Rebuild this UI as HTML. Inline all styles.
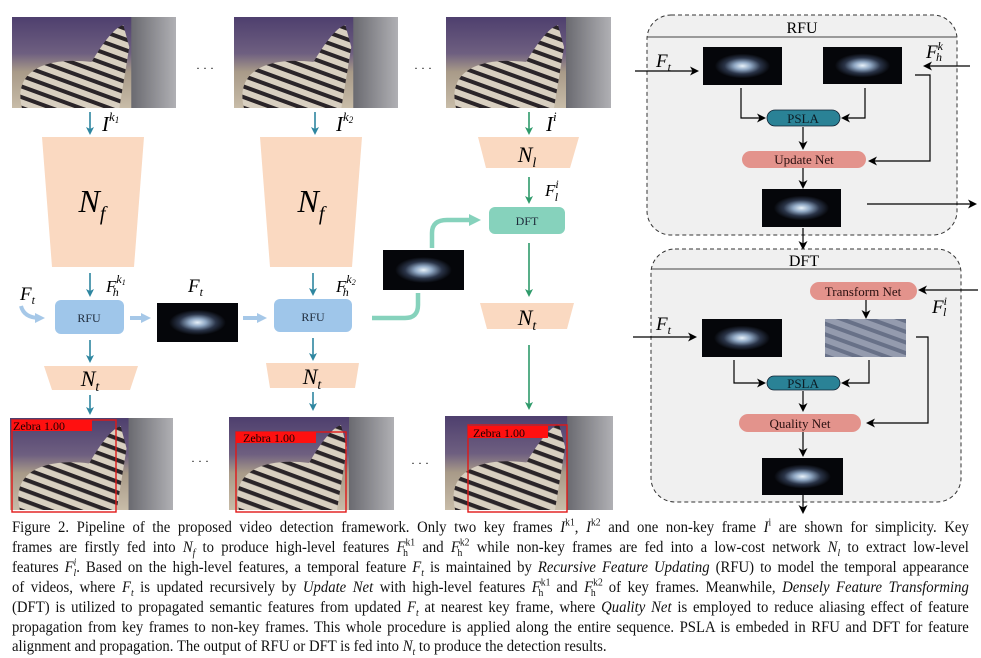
<!DOCTYPE html>
<html><head><meta charset="utf-8"><style>
html,body{margin:0;padding:0;background:#fff;}
body{width:981px;height:656px;position:relative;overflow:hidden;font-family:"Liberation Serif",serif;}
svg{position:absolute;left:0;top:0;}
.cap{position:absolute;left:12px;width:1040px;transform:scaleX(0.92);transform-origin:0 0;font-size:16px;line-height:20px;text-align:justify;text-align-last:justify;white-space:nowrap;color:#111;}
.cap i{font-style:italic;}
sup,sub{font-size:10.5px;line-height:0;}
</style></head><body>
<svg width="981" height="656" viewBox="0 0 981 656" xmlns="http://www.w3.org/2000/svg" font-family="Liberation Serif, serif">
<defs>
<linearGradient id="bg" x1="0" y1="0" x2="0" y2="1">
<stop offset="0" stop-color="#4e3f6e"/><stop offset="0.4" stop-color="#6e5f80"/><stop offset="0.6" stop-color="#a89a88"/><stop offset="1" stop-color="#c8bca8"/></linearGradient>
<linearGradient id="wall" x1="0" y1="0" x2="1" y2="0"><stop offset="0" stop-color="#6a6a70"/><stop offset="1" stop-color="#b0b0b4"/></linearGradient>
<pattern id="str" width="10" height="10" patternUnits="userSpaceOnUse" patternTransform="rotate(20)">
<rect width="10" height="10" fill="#d8cfc0"/><rect width="10" height="4" fill="#2a2428"/></pattern>
<radialGradient id="blob" cx="0.5" cy="0.5" r="0.5"><stop offset="0" stop-color="#e8f2fa"/><stop offset="0.3" stop-color="#90a8c4"/><stop offset="0.65" stop-color="#2a3448"/><stop offset="1" stop-color="#05060a"/></radialGradient>
<symbol id="photo" viewBox="0 0 165 91" preserveAspectRatio="none">
<rect width="165" height="91" fill="url(#bg)"/>
<rect x="120" y="0" width="45" height="91" fill="url(#wall)"/>
<path d="M10 91 C0 50 40 40 80 45 C95 20 105 10 112 8 L118 30 L108 91 Z" fill="url(#str)"/>
</symbol>
<symbol id="feat" viewBox="0 0 80 40" preserveAspectRatio="none">
<rect width="80" height="40" fill="#05060a"/>
<ellipse cx="40" cy="20" rx="28" ry="13" fill="url(#blob)"/>
</symbol>
<marker id="ab" markerWidth="8" markerHeight="8" refX="6" refY="4" orient="auto" markerUnits="userSpaceOnUse"><path d="M0,0 L8,4 L0,8 L2,4 Z" fill="#2e86a0"/></marker>
<marker id="ag" markerWidth="8" markerHeight="8" refX="6" refY="4" orient="auto" markerUnits="userSpaceOnUse"><path d="M0,0 L8,4 L0,8 L2,4 Z" fill="#2e9a6a"/></marker>
<marker id="ak" markerWidth="9" markerHeight="9" refX="7" refY="4.5" orient="auto" markerUnits="userSpaceOnUse"><path d="M0,0 L9,4.5 L0,9 L2.5,4.5 Z" fill="#000"/></marker>
<marker id="al" markerWidth="10" markerHeight="10" refX="5" refY="5" orient="auto" markerUnits="userSpaceOnUse"><path d="M0,0 L10,5 L0,10 Z" fill="#a6c8e8"/></marker>
<marker id="at" markerWidth="12" markerHeight="12" refX="5" refY="6" orient="auto" markerUnits="userSpaceOnUse"><path d="M0,0 L12,6 L0,12 Z" fill="#86d2bc"/></marker>
</defs>

<use href="#photo" x="12" y="17" width="164" height="91"/>
<use href="#photo" x="234" y="17" width="164" height="91"/>
<use href="#photo" x="446" y="17" width="165" height="91"/>
<text x="205" y="72" font-size="12" text-anchor="middle">· · ·</text>
<text x="423" y="72" font-size="12" text-anchor="middle">· · ·</text>

<g stroke="#2e86a0" stroke-width="1.6" fill="none">
<line x1="90" y1="112" x2="90" y2="133" marker-end="url(#ab)"/>
<line x1="315" y1="112" x2="315" y2="133" marker-end="url(#ab)"/>
<line x1="90" y1="273" x2="90" y2="295" marker-end="url(#ab)"/>
<line x1="313" y1="273" x2="313" y2="294" marker-end="url(#ab)"/>
<line x1="90" y1="340" x2="90" y2="361" marker-end="url(#ab)"/>
<line x1="313" y1="338" x2="313" y2="359" marker-end="url(#ab)"/>
<line x1="90" y1="395" x2="90" y2="413" marker-end="url(#ab)"/>
<line x1="313" y1="392" x2="313" y2="409" marker-end="url(#ab)"/>
</g>
<g stroke="#2e9a6a" stroke-width="1.6" fill="none">
<line x1="529" y1="112" x2="529" y2="133" marker-end="url(#ag)"/>
<line x1="529" y1="177" x2="529" y2="202" marker-end="url(#ag)"/>
<line x1="529" y1="243" x2="529" y2="295" marker-end="url(#ag)"/>
<line x1="529" y1="345" x2="529" y2="408" marker-end="url(#ag)"/>
</g>
<g font-style="italic" font-size="21">
<text x="102" y="131">I<tspan font-size="13" dy="-10">k</tspan><tspan font-size="9" dy="2">1</tspan></text>
<text x="336" y="131">I<tspan font-size="13" dy="-10">k</tspan><tspan font-size="9" dy="2">2</tspan></text>
<text x="546" y="131">I<tspan font-size="13" dy="-10">i</tspan></text>
<text x="545" y="196" font-size="17">F<tspan font-size="12" dy="-8">i</tspan><tspan font-size="12" dx="-4" dy="13">l</tspan></text>
<text x="106" y="292" font-size="17">F<tspan font-size="12" dy="-9">k</tspan><tspan font-size="8" dy="2">1</tspan><tspan font-size="12" dx="-13" dy="11">h</tspan></text>
<text x="336" y="292" font-size="17">F<tspan font-size="12" dy="-9">k</tspan><tspan font-size="8" dy="2">2</tspan><tspan font-size="12" dx="-13" dy="11">h</tspan></text>
<text x="20" y="300" font-size="19">F<tspan font-size="12" dy="4">t</tspan></text>
<text x="188" y="292" font-size="19">F<tspan font-size="12" dy="4">t</tspan></text>
</g>

<g fill="#fad9c1">
<polygon points="42,137 144,137 134,267 52,267"/>
<polygon points="260,137 362,137 352,267 270,267"/>
<polygon points="478,137 579,137 570,168 486,168"/>
<polygon points="480,303 574,303 567,329 487,329"/>
<polygon points="44,366 138,366 130,390 52,390"/>
<polygon points="266,363 359,363 355,388 270,388"/>
</g>
<g font-style="italic" text-anchor="middle">
<text x="92" y="212" font-size="32">N<tspan font-size="20" dy="8">f</tspan></text>
<text x="311" y="212" font-size="32">N<tspan font-size="20" dy="8">f</tspan></text>
<text x="527" y="162" font-size="22">N<tspan font-size="14" dy="5">l</tspan></text>
<text x="527" y="325" font-size="22">N<tspan font-size="14" dy="5">t</tspan></text>
<text x="90" y="386" font-size="22">N<tspan font-size="14" dy="5">t</tspan></text>
<text x="312" y="384" font-size="22">N<tspan font-size="14" dy="5">t</tspan></text>
</g>

<rect x="55" y="300" width="69" height="34" rx="6" fill="#9fc6ea"/>
<rect x="274" y="299" width="78" height="33" rx="6" fill="#9fc6ea"/>
<text x="89" y="322" font-size="12" text-anchor="middle" fill="#1e2a3a">RFU</text>
<text x="313" y="321" font-size="12" text-anchor="middle" fill="#1e2a3a">RFU</text>
<rect x="489" y="207" width="76" height="27" rx="6" fill="#86d2bc"/>
<text x="527" y="225" font-size="12" text-anchor="middle" fill="#1e2a3a">DFT</text>

<g stroke="#a6c8e8" stroke-width="4" fill="none">
<path d="M21 306 Q24 318 40 318" marker-end="url(#al)"/>
<line x1="130" y1="318" x2="146" y2="318" marker-end="url(#al)"/>
<line x1="243" y1="318" x2="262" y2="318" marker-end="url(#al)"/>
</g>
<g stroke="#86d2bc" stroke-width="4.5" fill="none">
<path d="M372 318 L405 318 Q418 318 418 305 L418 293"/>
<path d="M432 248 L432 233 Q432 220 447 220 L474 220" marker-end="url(#at)"/>
</g>

<use href="#feat" x="157" y="303" width="81" height="39"/>
<use href="#feat" x="383" y="250" width="81" height="40"/>

<use href="#photo" x="10" y="418" width="163" height="92"/>
<use href="#photo" x="229" y="417" width="165" height="93"/>
<use href="#photo" x="445" y="416" width="168" height="94"/>
<g fill="none" stroke="#e01818" stroke-width="1.4">
<rect x="12" y="420" width="104" height="92"/>
<rect x="236" y="432" width="110" height="80"/>
<rect x="468" y="425" width="99" height="87"/>
</g>
<g fill="#ff1010">
<rect x="12" y="420" width="80" height="11"/>
<rect x="236" y="432" width="80" height="11"/>
<rect x="468" y="426" width="80" height="12"/>
</g>
<g font-size="12" fill="#200">
<text x="13" y="430">Zebra 1.00</text>
<text x="243" y="442">Zebra 1.00</text>
<text x="473" y="437">Zebra 1.00</text>
</g>
<text x="200" y="465" font-size="12" text-anchor="middle">· · ·</text>
<text x="420" y="467" font-size="12" text-anchor="middle">· · ·</text>

<rect x="647" y="15" width="310" height="220" rx="24" fill="#f0f0f0" stroke="#333" stroke-dasharray="4,3" stroke-width="1"/>
<line x1="647" y1="37" x2="957" y2="37" stroke="#444" stroke-width="1"/>
<text x="802" y="33" font-size="16" text-anchor="middle">RFU</text>
<use href="#feat" x="703" y="47" width="79" height="38"/>
<use href="#feat" x="823" y="47" width="79" height="37"/>
<g stroke="#000" stroke-width="1.2" fill="none">
<line x1="635" y1="71" x2="697" y2="71" marker-end="url(#ak)"/>
<line x1="970" y1="66" x2="925" y2="66" marker-end="url(#ak)"/>
<polyline points="741,88 741,118 764,118" marker-end="url(#ak)"/>
<polyline points="865,88 865,118 843,118" marker-end="url(#ak)"/>
<line x1="803" y1="127" x2="803" y2="148" marker-end="url(#ak)"/>
<polyline points="915,75 930,75 930,161 870,161" marker-end="url(#ak)"/>
<line x1="803" y1="168" x2="803" y2="187" marker-end="url(#ak)"/>
<line x1="867" y1="204" x2="975" y2="204" marker-end="url(#ak)"/>
<line x1="803" y1="228" x2="803" y2="248" marker-end="url(#ak)"/>
</g>
<text x="656" y="67" font-size="19" font-style="italic">F<tspan font-size="12" dy="4">t</tspan></text>
<text x="926" y="58" font-size="19" font-style="italic">F<tspan font-size="12" dy="-8">k</tspan><tspan font-size="12" dx="-7" dy="11">h</tspan></text>
<rect x="767" y="110" width="73" height="16" rx="8" fill="#2a8296" stroke="#123" stroke-width="0.8"/>
<text x="803" y="123" font-size="13" text-anchor="middle" fill="#0c1c24">PSLA</text>
<rect x="742" y="151" width="124" height="17" rx="8.5" fill="#e3938c"/>
<text x="804" y="164" font-size="13" text-anchor="middle" fill="#2a1010">Update Net</text>
<use href="#feat" x="762" y="189" width="79" height="38"/>

<rect x="651" y="249" width="310" height="253" rx="24" fill="#f0f0f0" stroke="#333" stroke-dasharray="4,3" stroke-width="1"/>
<line x1="651" y1="269" x2="961" y2="269" stroke="#444" stroke-width="1"/>
<text x="804" y="266" font-size="16" text-anchor="middle">DFT</text>
<rect x="810" y="282" width="107" height="18" rx="9" fill="#e3938c"/>
<text x="863" y="296" font-size="13" text-anchor="middle" fill="#2a1010">Transform Net</text>
<use href="#feat" x="702" y="319" width="80" height="38"/>
<rect x="825" y="319" width="81" height="38" fill="#7d8aa8"/>
<rect x="825" y="319" width="81" height="38" fill="url(#str)" opacity="0.25"/>
<g stroke="#000" stroke-width="1.2" fill="none">
<line x1="978" y1="290" x2="920" y2="290" marker-end="url(#ak)"/>
<line x1="866" y1="300" x2="866" y2="317" marker-end="url(#ak)"/>
<line x1="633" y1="337" x2="695" y2="337" marker-end="url(#ak)"/>
<polyline points="734,360 734,383 764,383" marker-end="url(#ak)"/>
<polyline points="869,360 869,383 843,383" marker-end="url(#ak)"/>
<line x1="803" y1="391" x2="803" y2="410" marker-end="url(#ak)"/>
<polyline points="916,337 928,337 928,423 868,423" marker-end="url(#ak)"/>
<line x1="803" y1="432" x2="803" y2="455" marker-end="url(#ak)"/>
<line x1="803" y1="495" x2="803" y2="512" marker-end="url(#ak)"/>
</g>
<text x="656" y="330" font-size="19" font-style="italic">F<tspan font-size="12" dy="4">t</tspan></text>
<text x="932" y="313" font-size="19" font-style="italic">F<tspan font-size="12" dy="-8">i</tspan><tspan font-size="12" dx="-4" dy="11">l</tspan></text>
<rect x="767" y="376" width="73" height="14" rx="7" fill="#2a8296" stroke="#123" stroke-width="0.8"/>
<text x="803" y="388" font-size="13" text-anchor="middle" fill="#0c1c24">PSLA</text>
<rect x="739" y="414" width="122" height="18" rx="9" fill="#e3938c"/>
<text x="800" y="428" font-size="13" text-anchor="middle" fill="#2a1010">Quality Net</text>
<use href="#feat" x="762" y="458" width="81" height="37"/>
</svg>

<div class="cap" style="top:518px">Figure 2. Pipeline of the proposed video detection framework. Only two key frames <i>I</i><sup>k1</sup>, <i>I</i><sup>k2</sup> and one non-key frame <i>I</i><sup>i</sup> are shown for simplicity. Key</div>
<div class="cap" style="top:538px">frames are firstly fed into <i>N<sub>f</sub></i> to produce high-level features <i>F</i><sup>k1</sup><sub style="margin-left:-13px">h</sub> &nbsp;and <i>F</i><sup>k2</sup><sub style="margin-left:-13px">h</sub> &nbsp;while non-key frames are fed into a low-cost network <i>N<sub>l</sub></i> to extract low-level</div>
<div class="cap" style="top:558px">features <i>F<sup>i</sup><sub style="margin-left:-3px">l</sub></i>. Based on the high-level features, a temporal feature <i>F<sub>t</sub></i> is maintained by <i>Recursive Feature Updating</i> (RFU) to model the temporal appearance</div>
<div class="cap" style="top:578px">of videos, where <i>F<sub>t</sub></i> is updated recursively by <i>Update Net</i> with high-level features <i>F</i><sup>k1</sup><sub style="margin-left:-13px">h</sub> &nbsp;and <i>F</i><sup>k2</sup><sub style="margin-left:-13px">h</sub> &nbsp;of key frames. Meanwhile, <i>Densely Feature Transforming</i></div>
<div class="cap" style="top:598px">(DFT) is utilized to propagated semantic features from updated <i>F<sub>t</sub></i> at nearest key frame, where <i>Quality Net</i> is employed to reduce aliasing effect of feature</div>
<div class="cap" style="top:618px">propagation from key frames to non-key frames. This whole procedure is applied along the entire sequence. PSLA is embeded in RFU and DFT for feature</div>
<div class="cap" style="top:637px;text-align-last:left">alignment and propagation. The output of RFU or DFT is fed into <i>N<sub>t</sub></i> to produce the detection results.</div>
</body></html>
